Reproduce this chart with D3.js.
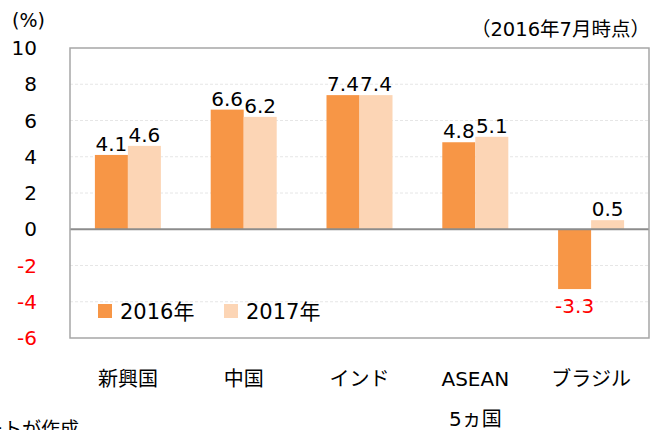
<!DOCTYPE html>
<meta charset="utf-8">
<title>成長率見通し</title>
<script src="https://d3js.org/d3.v7.min.js"></script>
<style>
  body { margin: 0; background: #fff; }
  svg text { font-family: "DejaVu Sans", "Noto Sans CJK JP", sans-serif; }
  .tick-label { font-size: 20px; text-anchor: end; }
  .val { font-size: 20px; text-anchor: middle; }
  .cat { font-size: 20px; text-anchor: middle; }
</style>
<div id="chart"></div>
<script>
// data
var categories = ["新興国", "中国", "インド", "ASEAN", "ブラジル"];
var series = ["2016年", "2017年"];
var values2016 = [4.1, 6.6, 7.4, 4.8, -3.3];
var values2017 = [4.6, 6.2, 7.4, 5.1, 0.5];
var yTicks = [10, 8, 6, 4, 2, 0, -2, -4, -6];
var colors = ["#f79646", "#fcd5b5"];

var W = 653, H = 430;
var pL = 70, pR = 649, pT = 48, pB = 338;

var svg = d3.select("#chart").append("svg")
    .attr("width", W).attr("height", H);

var x0 = d3.scaleBand().domain(categories).range([pL, pR])
    .paddingInner(0.43).paddingOuter(0.215);
var x1 = d3.scaleBand().domain(series).range([0, x0.bandwidth()]);
var y = d3.scaleLinear().domain([-6, 10]).range([pB, pT]);

// grid lines
svg.selectAll("line.grid")
  .data(yTicks.filter(function(d) { return d != 0 && d != 10 && d != -6; }))
  .enter().append("line")
    .attr("class", "grid")
    .attr("x1", pL).attr("x2", pR)
    .attr("y1", function(d) { return y(d); })
    .attr("y2", function(d) { return y(d); })
    .attr("stroke", "#e6e6e6")
    .attr("stroke-dasharray", "3,2")
    .attr("stroke-width", 1);

// y labels
svg.selectAll("text.tick-label")
  .data(yTicks).enter().append("text")
    .attr("class", "tick-label")
    .attr("x", 37)
    .attr("y", function(d) { return y(d) + 7; })
    .attr("fill", function(d) { return d < 0 ? "#ff0000" : "#000"; })
    .text(function(d) { return d; });

// bars
var rows = categories.map(function(c, i) {
  return { cat: c, vals: [values2016[i], values2017[i]] };
});

var groups = svg.selectAll("g.cat")
  .data(rows).enter().append("g")
    .attr("transform", function(d) { return "translate(" + x0(d.cat) + ",0)"; });

groups.selectAll("rect")
  .data(function(d) { return d.vals.map(function(v, j) { return { s: series[j], v: v, j: j }; }); })
  .enter().append("rect")
    .attr("x", function(d) { return x1(d.s); })
    .attr("width", x1.bandwidth())
    .attr("y", function(d) { return y(Math.max(0, d.v)); })
    .attr("height", function(d) { return Math.abs(y(d.v) - y(0)); })
    .attr("fill", function(d) { return colors[d.j]; });

groups.selectAll("text.val")
  .data(function(d) { return d.vals.map(function(v, j) { return { s: series[j], v: v, j: j }; }); })
  .enter().append("text")
    .attr("class", "val")
    .attr("x", function(d) { return x1(d.s) + x1.bandwidth() / 2; })
    .attr("y", function(d) { return d.v < 0 ? y(d.v) + 24 : y(d.v) - 4; })
    .attr("fill", function(d) { return d.v < 0 ? "#ff0000" : "#000"; })
    .text(function(d) { return d.v.toFixed(1); });

// zero line
svg.append("line")
  .attr("x1", pL).attr("x2", pR)
  .attr("y1", y(0)).attr("y2", y(0))
  .attr("stroke", "#8c8c8c").attr("stroke-width", 2);

// frame
svg.append("rect")
  .attr("x", pL).attr("y", pT)
  .attr("width", pR - pL).attr("height", pB - pT)
  .attr("fill", "none")
  .attr("stroke", "#a6a6a6").attr("stroke-width", 1.5);

// category labels
svg.selectAll("text.cat")
  .data(categories).enter().append("text")
    .attr("class", "cat")
    .attr("x", function(d) { return x0(d) + x0.bandwidth() / 2; })
    .attr("y", 386)
    .text(function(d) { return d; });

svg.append("text")
  .attr("class", "cat")
  .attr("x", x0("ASEAN") + x0.bandwidth() / 2)
  .attr("y", 426)
  .text("5ヵ国");

// legend
var legend = svg.selectAll("g.legend")
  .data(series).enter().append("g")
    .attr("transform", function(d, i) { return "translate(" + (98 + i * 126) + ",304)"; });
legend.append("rect")
  .attr("width", 14).attr("height", 14)
  .attr("fill", function(d, i) { return colors[i]; });
legend.append("text")
  .attr("x", 22).attr("y", 15)
  .style("font-size", "21px")
  .text(function(d) { return d; });

// titles
svg.append("text")
  .attr("x", 12).attr("y", 27)
  .style("font-size", "19px")
  .text("(%)");

svg.append("text")
  .attr("x", 650).attr("y", 36)
  .attr("text-anchor", "end")
  .style("font-size", "19.5px")
  .text("（2016年7月時点）");

svg.append("text")
  .attr("x", 79).attr("y", 436)
  .attr("text-anchor", "end")
  .style("font-size", "19px")
  .text("ートが作成");
</script>
